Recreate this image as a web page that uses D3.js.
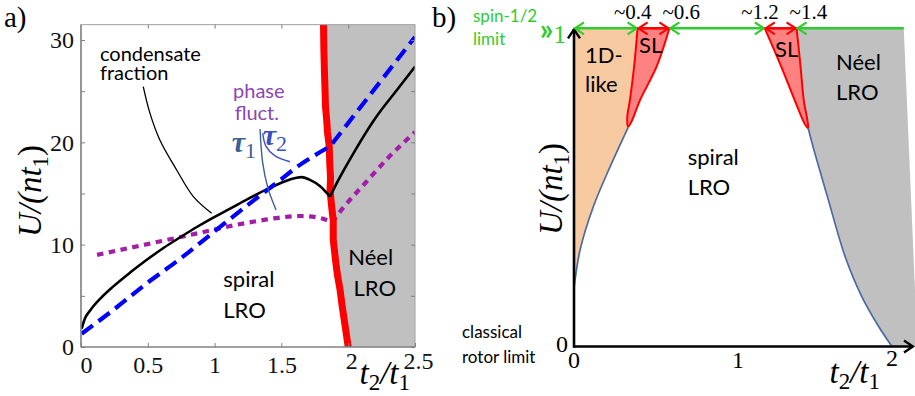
<!DOCTYPE html>
<html>
<head>
<meta charset="utf-8">
<script src="https://cdn.jsdelivr.net/npm/d3@7"></script>
<style>
  body { margin: 0; background: #fff; }
  svg { display: block; }
</style>
</head>
<body>
<script>
// ---------- panel a) data ----------
const aTicksX = [0, 0.5, 1, 1.5, 2, 2.5];
const aTicksY = [0, 5, 10, 15, 20, 25, 30];
const aLabelsY = [0, 10, 20, 30];

// condensate fraction (black solid), left branch ends at the cusp
const condLeftT  = [0.005, 0.03, 0.07, 0.15, 0.24, 0.37, 0.49, 0.62, 0.74, 0.87, 0.99, 1.12, 1.24, 1.39, 1.5, 1.56, 1.65, 1.71, 1.79, 1.85, 1.864];
const condLeftU  = [1.8, 2.8, 3.6, 4.8, 5.9, 7.3, 8.5, 9.7, 10.7, 11.75, 12.65, 13.55, 14.4, 15.4, 16.05, 16.35, 16.6, 16.35, 15.7, 14.9, 14.7];
const condRightT = [1.864, 1.926, 2.038, 2.2, 2.388, 2.5];
const condRightU = [14.7, 16.3, 18.9, 22.3, 25.5, 27.4];

// tau_1 (blue dashed)
const tauLeftT  = [0.005, 0.24, 0.49, 0.74, 0.99, 1.24, 1.46, 1.639, 1.864];
const tauLeftU  = [1.3, 3.6, 6.2, 8.6, 11.2, 13.8, 16.0, 17.8, 19.6];
const tauRightT = [1.864, 2.5];
const tauRightU = [19.6, 30.3];

// phase fluctuations (purple dotted)
const phaseLeftT  = [0.12, 0.37, 0.62, 0.87, 1.11, 1.36, 1.49, 1.65, 1.79, 1.88];
const phaseLeftU  = [9.0, 9.7, 10.4, 11.1, 11.8, 12.4, 12.65, 12.8, 12.6, 12.2];
const phaseRightT = [1.88, 1.95, 2.14, 2.3, 2.5];
const phaseRightU = [12.2, 13.4, 16.2, 18.5, 21.0];

// spiral / Néel transition (thick red)
const redU = [31.6, 29, 27, 25.4, 23.5, 22.2, 21, 19.6, 18, 16.5, 15.3, 13.5, 12.4, 10.5, 8.5, 7, 5.6, 4, 2.5, 1, 0];
const redT = [1.815, 1.818, 1.822, 1.826, 1.83, 1.839, 1.845, 1.858, 1.862, 1.868, 1.864, 1.878, 1.888, 1.888, 1.905, 1.92, 1.939, 1.955, 1.972, 1.989, 2.0];

// leader lines (data units)
const condLeaderT = [0.466, 0.516, 0.591, 0.716, 0.841, 0.978];
const condLeaderU = [25.45, 22.85, 20.2, 17.3, 14.7, 13.07];
const tau1LeaderT = [1.34, 1.36, 1.40, 1.46];
const tau1LeaderU = [21.3, 18.0, 15.5, 13.4];
const tau2LeaderT = [1.36, 1.385, 1.45, 1.564];
const tau2LeaderU = [20.9, 19.6, 18.7, 18.1];

// ---------- panel b) data ----------
const bTicksX = [0, 1, 2];
const bBounds = [0.4, 0.6, 1.2, 1.4];
const bBoundLabels = ["~0.4", "~0.6", "~1.2", "~1.4"];
const bTopEnd = 2.074;     // end of the spin-1/2 line
const bGrayBottom = 2.16;  // right edge of Néel region at U=0

// 1D-like / spiral crossover (left) and spiral / Néel crossover (right)
const crossLeftT  = [0, 0.038, 0.122, 0.228, 0.34];
const crossLeftU  = [0.183, 0.303, 0.44, 0.566, 0.688];
const crossRightT = [1.473, 1.515, 1.6, 1.705, 1.81, 1.916, 2.0];
const crossRightU = [0.686, 0.607, 0.46, 0.283, 0.157, 0.063, 0.0];

// spin-liquid pockets: left edge (top→tip), right edge (tip→top)
const sl1LeftT  = [0.4, 0.378, 0.352, 0.335, 0.34];
const sl1LeftU  = [1.0, 0.88, 0.775, 0.72, 0.69];
const sl1RightT = [0.34, 0.36, 0.416, 0.52, 0.6];
const sl1RightU = [0.69, 0.705, 0.775, 0.88, 1.0];
const sl2LeftT  = [1.2, 1.304, 1.388, 1.451, 1.473];
const sl2LeftU  = [1.0, 0.879, 0.774, 0.70, 0.686];
const sl2RightT = [1.473, 1.468, 1.445, 1.425, 1.4];
const sl2RightU = [0.686, 0.71, 0.774, 0.879, 1.0];

// ---------- helpers ----------
const zip = (T, U) => T.map((t, i) => ({ t, U: U[i] }));
const SERIF = "'Liberation Serif', 'Times New Roman', serif";
const SANS = "Lato, 'Open Sans', sans-serif";

const svg = d3.select("body").append("svg").attr("width", 915).attr("height", 396);
svg.append("rect").attr("width", 915).attr("height", 396).attr("fill", "#fff");

const defs = svg.append("defs");

// ================= panel a =================
const xA = d3.scaleLinear().domain([0, 2.5]).range([81, 415]);
const yA = d3.scaleLinear().domain([0, 30]).range([347, 40]);
const topA = 31.5;

defs.append("clipPath").attr("id", "clipA").append("rect")
  .attr("x", xA(0)).attr("y", yA(topA)).attr("width", xA(2.5) - xA(0)).attr("height", yA(0) - yA(topA));

const gA = svg.append("g");
const plotA = gA.append("g").attr("clip-path", "url(#clipA)");

const lineA = d3.line().x(d => xA(d.t)).y(d => yA(d.U));
const smoothA = d3.line().x(d => xA(d.t)).y(d => yA(d.U)).curve(d3.curveMonotoneX);

// Néel region: everything right of the red transition line
const redPts = zip(redT, redU);
const grayA = redPts.map(d => [xA(d.t), yA(d.U)])
  .concat([[xA(2.5), yA(0)], [xA(2.5), yA(topA)]]);
plotA.append("path").attr("d", "M" + grayA.join("L") + "Z").attr("fill", "#c0c0c0");

// curves
const drawSplit = (parts, style) => {
  parts.forEach(p => {
    const path = plotA.append("path").attr("d", smoothA(p)).attr("fill", "none");
    Object.entries(style).forEach(([k, v]) => path.attr(k, v));
  });
};
drawSplit([zip(phaseLeftT, phaseLeftU), zip(phaseRightT, phaseRightU)],
  { stroke: "#a21ea8", "stroke-width": 4.2, "stroke-dasharray": "6.5,5.5" });
plotA.append("path").attr("d", lineA(redPts)).attr("fill", "none")
  .attr("stroke", "#ff0000").attr("stroke-width", 7).attr("stroke-linejoin", "round");
drawSplit([zip(condLeftT, condLeftU), zip(condRightT, condRightU)],
  { stroke: "#000", "stroke-width": 2.6 });
plotA.append("path")
  .attr("d", smoothA(zip(tauLeftT, tauLeftU)) + lineA(zip(tauRightT, tauRightU)).replace("M", "L"))
  .attr("fill", "none").attr("stroke", "#0000ff").attr("stroke-width", 4.2)
  .attr("stroke-dasharray", "14,7");

// frame and ticks
const frame = gA.append("g");
frame.append("rect").attr("x", xA(0)).attr("y", yA(topA)).attr("width", xA(2.5) - xA(0))
  .attr("height", yA(0) - yA(topA)).attr("fill", "none").attr("stroke", "#a0a0a0").attr("stroke-width", 1);
frame.append("line").attr("x1", xA(0)).attr("x2", xA(0)).attr("y1", yA(0)).attr("y2", yA(topA))
  .attr("stroke", "#707070").attr("stroke-width", 1.2);
frame.append("line").attr("x1", xA(0)).attr("x2", xA(2.5)).attr("y1", yA(0)).attr("y2", yA(0))
  .attr("stroke", "#707070").attr("stroke-width", 1.2);

const styleAxis = g => {
  g.select(".domain").remove();
  g.selectAll(".tick line").attr("stroke", "#808080");
  g.selectAll("text").attr("font-family", SERIF).attr("font-size", 24).attr("fill", "#111");
};
gA.append("g").attr("transform", `translate(0,${yA(0)})`)
  .call(d3.axisBottom(xA).tickValues(aTicksX).tickSize(-4).tickPadding(8).tickFormat(d3.format("")))
  .call(styleAxis)
  .call(g => g.selectAll("text").attr("dy", "0.75em"))
  .call(g => g.selectAll(".tick").filter(d => d === 0).select("text").attr("dx", 5))
  .call(g => g.selectAll(".tick").filter(d => d >= 2).select("text").attr("y", 4).attr("dx", 3));
gA.append("g").attr("transform", `translate(0,${yA(topA)})`)
  .call(d3.axisTop(xA).tickValues(aTicksX.slice(1, -1)).tickSize(-4).tickFormat(""))
  .call(styleAxis);
gA.append("g").attr("transform", `translate(${xA(0)},0)`)
  .call(d3.axisLeft(yA).tickValues(aTicksY).tickSize(-4).tickPadding(7)
    .tickFormat(d => aLabelsY.includes(d) ? d : ""))
  .call(styleAxis);
gA.append("g").attr("transform", `translate(${xA(2.5)},0)`)
  .call(d3.axisRight(yA).tickValues(aTicksY).tickSize(-4).tickFormat(""))
  .call(styleAxis);

// leader lines
const curveLine = d3.line().x(d => xA(d.t)).y(d => yA(d.U)).curve(d3.curveCatmullRom);
gA.append("path").attr("d", curveLine(zip(condLeaderT, condLeaderU)))
  .attr("fill", "none").attr("stroke", "#000").attr("stroke-width", 1.3);
gA.append("path").attr("d", curveLine(zip(tau1LeaderT, tau1LeaderU)))
  .attr("fill", "none").attr("stroke", "#3d5f95").attr("stroke-width", 1.4);
gA.append("path").attr("d", curveLine(zip(tau2LeaderT, tau2LeaderU)))
  .attr("fill", "none").attr("stroke", "#3a4fc0").attr("stroke-width", 1.4);

// annotations inside panel a
const textA = (t, U, str, opts = {}) => gA.append("text").attr("x", xA(t)).attr("y", yA(U)).text(str)
  .attr("font-family", opts.family || SANS).attr("font-size", opts.size || 20)
  .attr("fill", opts.fill || "#000");
textA(0.142, 27.9, "condensate");
textA(0.142, 26.1, "fraction");
textA(1.138, 24.3, "phase", { fill: "#8b45b5" });
textA(1.15, 22.2, "fluct.", { fill: "#8b45b5" });
textA(1.065, 5.9, "spiral", { size: 22 });
textA(1.065, 2.8, "LRO", { size: 22 });
textA(2.0, 8.0, "Néel", { size: 22 });
textA(2.04, 5.0, "LRO", { size: 22 });

const tauLabel = (t, U, sub, color) => {
  const el = gA.append("text").attr("x", xA(t)).attr("y", yA(U))
    .attr("font-family", SERIF).attr("fill", color);
  el.append("tspan").text("τ").attr("font-size", 30).attr("font-weight", "bold").attr("font-style", "italic");
  el.append("tspan").text(sub).attr("font-size", 22).attr("dy", 6);
};
tauLabel(1.128, 19.1, "1", "#3d5f95");
tauLabel(1.36, 19.75, "2", "#3a4fc0");

// axis titles
const xTitle = (x, y) => {
  const el = svg.append("text").attr("x", x).attr("y", y).attr("font-family", SERIF)
    .attr("font-style", "italic").attr("font-size", 33).attr("fill", "#000").attr("text-anchor", "end");
  el.append("tspan").text("t");
  el.append("tspan").text("2").attr("font-style", "normal").attr("font-size", 23).attr("dy", 6);
  el.append("tspan").text("/t").attr("dy", -6);
  el.append("tspan").text("1").attr("font-style", "normal").attr("font-size", 23).attr("dy", 6);
};
const yTitle = (x, y) => {
  const el = svg.append("text").attr("transform", `translate(${x},${y}) rotate(-90)`)
    .attr("font-family", SERIF).attr("font-style", "italic").attr("font-size", 33)
    .attr("fill", "#000").attr("text-anchor", "middle");
  el.append("tspan").text("U/(nt");
  el.append("tspan").text("1").attr("font-style", "normal").attr("font-size", 23).attr("dy", 7);
  el.append("tspan").text(")").attr("font-style", "normal").attr("dy", -7);
};
xTitle(410, 384);
yTitle(41, 191);

svg.append("text").attr("x", 4).attr("y", 27).text("a)").attr("font-family", SERIF)
  .attr("font-size", 29).attr("fill", "#000");
svg.append("text").attr("x", 432).attr("y", 27).text("b)").attr("font-family", SERIF)
  .attr("font-size", 29).attr("fill", "#000");

// ================= panel b =================
const xB = d3.scaleLinear().domain([0, 2]).range([574, 892]);
const yB = d3.scaleLinear().domain([0, 1]).range([346.5, 28.3]);
const gB = svg.append("g");
const pt = (t, U) => [xB(t), yB(U)];
const smoothB = d3.line().x(d => xB(d.t)).y(d => yB(d.U)).curve(d3.curveCatmullRom);

const crossL = zip(crossLeftT, crossLeftU);
const crossR = zip(crossRightT, crossRightU);
const sl1 = zip(sl1LeftT, sl1LeftU).concat(zip(sl1RightT, sl1RightU).slice(1));
const sl2 = zip(sl2LeftT, sl2LeftU).concat(zip(sl2RightT, sl2RightU).slice(1));

// 1D-like region (peach)
gB.append("path").attr("d", smoothB(zip(sl1LeftT, sl1LeftU)) + "L" + smoothB(crossL.slice().reverse()).slice(1)
    + "L" + pt(0, 1).join(",") + "Z")
  .attr("fill", "#f8caa2");

// Néel region (gray)
gB.append("path")
  .attr("d", "M" + pt(sl2RightT[sl2RightT.length - 1], 1).join(",")
    + "L" + pt(bTopEnd, 1).join(",") + "L" + pt(bGrayBottom, 0).join(",")
    + "L" + smoothB(crossR.slice().reverse()).slice(1)
    + "L" + smoothB(zip(sl2RightT, sl2RightU)).slice(1) + "Z")
  .attr("fill", "#c0c0c0");

// spin-liquid pockets
[sl1, sl2].forEach(s => {
  gB.append("path").attr("d", smoothB(s) + "Z").attr("fill", "#ff8282")
    .attr("stroke", "#ff0000").attr("stroke-width", 2).attr("stroke-linejoin", "round");
});

// crossover lines
[crossL, crossR].forEach(c => {
  gB.append("path").attr("d", smoothB(c)).attr("fill", "none")
    .attr("stroke", "#4a6b9e").attr("stroke-width", 1.7);
});

// axes with arrowheads
const marker = (id, color, w) => {
  defs.append("marker").attr("id", id).attr("markerUnits", "userSpaceOnUse")
    .attr("markerWidth", 20).attr("markerHeight", 20).attr("refX", 0).attr("refY", 0)
    .attr("viewBox", "-12 -10 20 20").attr("orient", "auto-start-reverse")
    .append("path").attr("d", "M-9,-6L0,0L-9,6").attr("fill", "none")
    .attr("stroke", color).attr("stroke-width", w).attr("stroke-linejoin", "miter");
};
marker("arrK", "#000", 2.4);
marker("arrG", "#2ecc2e", 2.2);
marker("arrR", "#ff0000", 2.2);

gB.append("line").attr("x1", xB(0)).attr("x2", 913).attr("y1", yB(0)).attr("y2", yB(0))
  .attr("stroke", "#000").attr("stroke-width", 2.6).attr("marker-end", "url(#arrK)");
gB.append("line").attr("x1", xB(0)).attr("x2", xB(0)).attr("y1", yB(0) + 1.3).attr("y2", yB(1) + 1)
  .attr("stroke", "#000").attr("stroke-width", 2.6).attr("marker-end", "url(#arrK)");

// spin-1/2 limit line with bounded arrows
const segs = [
  [0, bBounds[0], "arrG", "#2ecc2e"],
  [bBounds[0], bBounds[1], "arrR", "#ff0000"],
  [bBounds[1], bBounds[2], "arrG", "#2ecc2e"],
  [bBounds[2], bBounds[3], "arrR", "#ff0000"],
];
segs.forEach(([a, b, m, c]) => {
  gB.append("line").attr("x1", xB(a) + 1).attr("x2", xB(b) - 1).attr("y1", yB(1)).attr("y2", yB(1))
    .attr("stroke", c).attr("stroke-width", 2.4)
    .attr("marker-start", `url(#${m})`).attr("marker-end", `url(#${m})`);
});
gB.append("line").attr("x1", xB(bBounds[3]) + 1).attr("x2", xB(bTopEnd)).attr("y1", yB(1)).attr("y2", yB(1))
  .attr("stroke", "#2ecc2e").attr("stroke-width", 2.4).attr("marker-start", "url(#arrG)");

// boundary labels
bBounds.forEach((v, i) => {
  const left = i % 2 === 0;
  gB.append("text").attr("x", xB(v) + (left ? 14 : -7)).attr("y", 19)
    .attr("text-anchor", left ? "end" : "start").text(bBoundLabels[i])
    .attr("font-family", SERIF).attr("font-size", 21).attr("fill", "#000");
});

// tick labels b
bTicksX.forEach(v => {
  gB.append("text").attr("x", xB(v) + (v === 1 ? 5 : 0)).attr("y", v === 2 ? 366 : 368).attr("text-anchor", "middle")
    .text(v).attr("font-family", SERIF).attr("font-size", 24).attr("fill", "#000");
});
gB.append("text").attr("x", 568).attr("y", 352).attr("text-anchor", "end").text("0")
  .attr("font-family", SERIF).attr("font-size", 24).attr("fill", "#000");
const one = gB.append("text").attr("x", 566).attr("y", 43).attr("text-anchor", "end").attr("fill", "#2ecc2e");
one.append("tspan").text("»").attr("font-family", SANS).attr("font-weight", "bold").attr("font-size", 30)
  .attr("dy", -3);
one.append("tspan").text("1").attr("font-family", SERIF).attr("font-size", 25).attr("dy", 3);

// texts outside the b axes
const plain = (x, y, s, fill) => svg.append("text").attr("x", x).attr("y", y).text(s)
  .attr("font-family", SANS).attr("font-size", 17).attr("fill", fill);
plain(473, 22, "spin-1/2", "#2ecc2e");
plain(473, 45, "limit", "#2ecc2e");
plain(462, 338, "classical", "#000");
plain(462, 363, "rotor limit", "#000");

// region labels b
const textB = (t, U, s) => gB.append("text").attr("x", xB(t)).attr("y", yB(U)).text(s)
  .attr("font-family", SANS).attr("font-size", 22).attr("fill", "#000");
textB(0.069, 0.891, "1D-");
textB(0.069, 0.80, "like");
textB(0.409, 0.921, "SL");
textB(1.264, 0.911, "SL");
textB(1.648, 0.869, "Néel");
textB(1.648, 0.775, "LRO");
textB(0.715, 0.57, "spiral");
textB(0.715, 0.476, "LRO");

xTitle(880, 383);
yTitle(562, 189);
</script>
</body>
</html>
